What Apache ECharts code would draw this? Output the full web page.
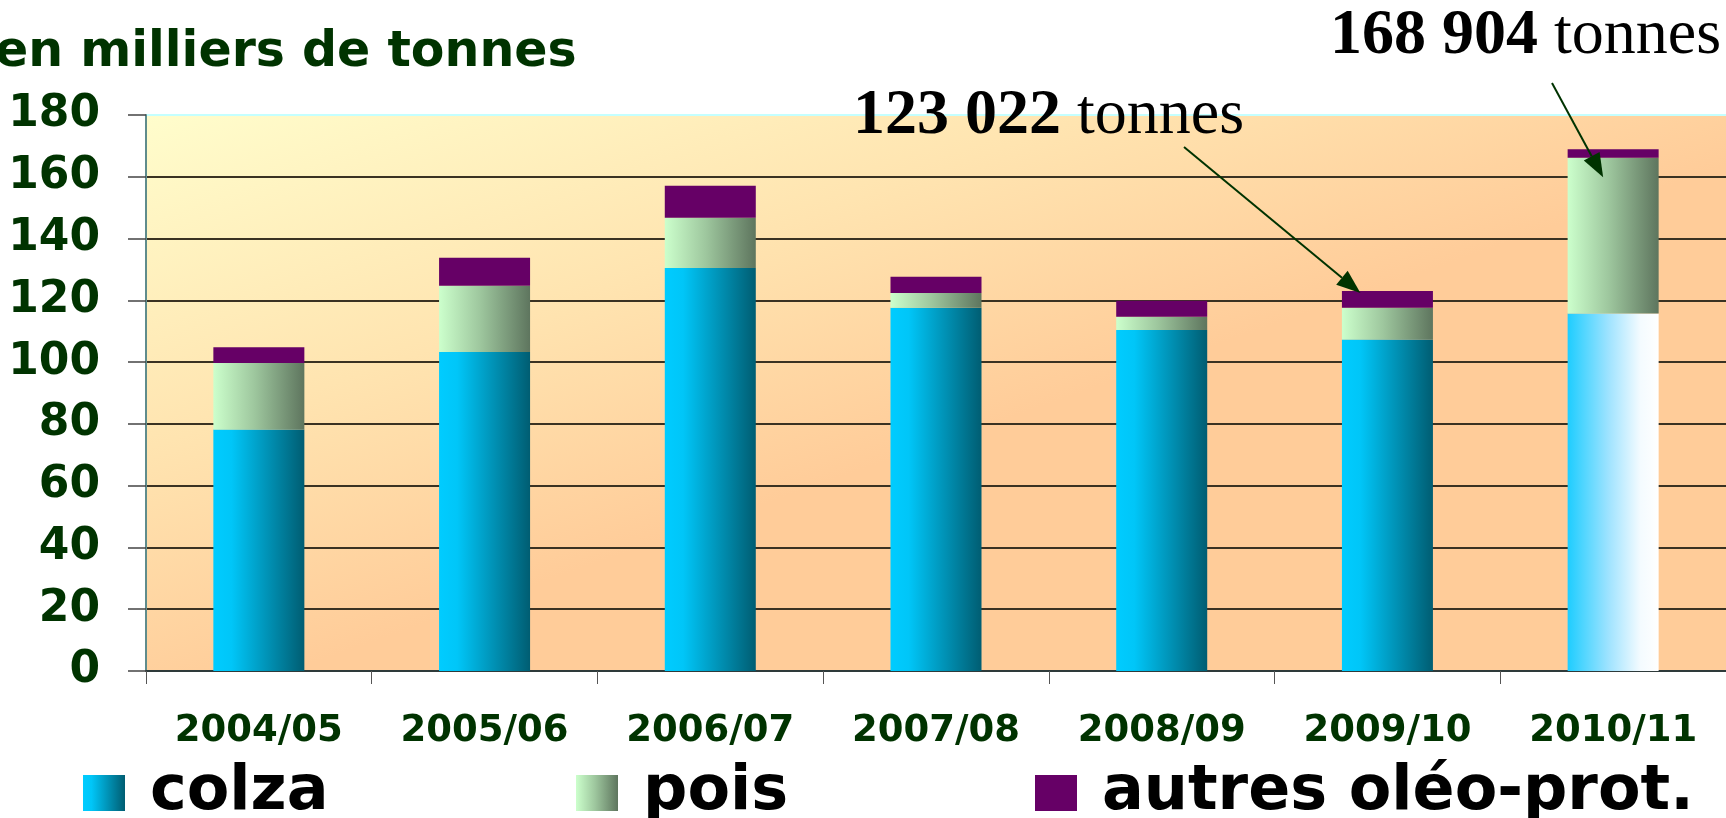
<!DOCTYPE html>
<html>
<head>
<meta charset="utf-8">
<script src="https://cdn.jsdelivr.net/npm/echarts@6/dist/echarts.min.js"></script>
<style>
  html, body { margin: 0; padding: 0; background: #fff; }
  #chart { width: 1726px; height: 818px; }
</style>
</head>
<body>
<div id="chart"></div>
<script>
// data (milliers de tonnes)
const categories = ['2004/05', '2005/06', '2006/07', '2007/08', '2008/09', '2009/10', '2010/11']
const colza = [78.2, 103.3, 130.5, 117.6, 110.4, 107.3, 115.7]
const pois = [21.5, 21.4, 16.2, 4.8, 4.3, 10.3, 50.5]
const autres = [5.1, 9.1, 10.4, 5.2, 5.2, 5.4, 2.7]
const seriesNames = ['colza', 'pois', 'autres oléo-prot.']
const yMin = 0
const yMax = 180
const yStep = 20
const noteIndex = [5, 6]
const noteBold = ['123 022', '168 904']
const noteUnit = 'tonnes'

const green = '#003300'

function hGrad(stops) {
  return {
    type: 'linear', x: 0, y: 0, x2: 1, y2: 0,
    colorStops: stops.map(s => ({offset: s[0], color: s[1]}))
  }
}
const colzaGrad = hGrad([[0, '#00CCFF'], [0.2, '#00C6F8'], [1, '#005D72']])
const colzaLastGrad = hGrad([[0, '#1ECDFF'], [0.45, '#9FE3FF'], [0.8, '#F4FBFF'], [1, '#FFFFFF']])
const poisGrad = hGrad([[0, '#CCFFCC'], [0.45, '#9EC79E'], [1, '#5E755E']])

let chart = echarts.init(document.getElementById('chart'), null, {renderer: 'canvas'})

// grid lines: the top one is light cyan
let splitColors = []
for (let v = yMin; v <= yMax; v += yStep) {
  splitColors.push(v === yMax ? '#C4FFFF' : '#3A3222')
}

function legendAt(name, left) {
  return {
    data: [name],
    left: left,
    top: 756,
    padding: [5, 0, 5, 0],
    icon: 'rect',
    itemWidth: 42,
    itemHeight: 36,
    selectedMode: false,
    textStyle: {
      fontFamily: 'DejaVu Sans',
      fontWeight: 'bold',
      fontSize: 62,
      lineHeight: 64,
      color: '#000',
      padding: [0, 0, 0, 20]
    }
  }
}

let option = {
  animation: false,
  grid: {
    left: 146,
    right: 0,
    top: 115,
    bottom: 147,
    show: true,
    borderWidth: 0,
    backgroundColor: {
      type: 'linear',
      x: 146, y: 115, x2: 336, y2: 655,
      global: true,
      colorStops: [
        {offset: 0, color: '#FFFDCC'},
        {offset: 0.55, color: '#FFE4B0'},
        {offset: 1, color: '#FFCC99'}
      ]
    }
  },
  legend: [
    legendAt(seriesNames[0], 83),
    legendAt(seriesNames[1], 576),
    legendAt(seriesNames[2], 1035)
  ],
  xAxis: {
    type: 'category',
    data: categories,
    axisLine: {show: true, lineStyle: {color: '#2E3A3A', width: 2}},
    axisTick: {show: true, alignWithLabel: false, length: 13, lineStyle: {color: '#555', width: 1}},
    axisLabel: {
      margin: 42,
      fontFamily: 'DejaVu Sans',
      fontWeight: 'bold',
      fontSize: 37,
      color: green
    },
    splitLine: {show: false}
  },
  yAxis: {
    type: 'value',
    min: yMin,
    max: yMax,
    interval: yStep,
    axisLine: {show: true, lineStyle: {color: '#5F8C8C', width: 2}},
    axisTick: {show: true, inside: false, length: 18, lineStyle: {color: '#444', width: 1.5}},
    axisLabel: {
      margin: 46,
      fontFamily: 'DejaVu Sans',
      fontWeight: 'bold',
      fontSize: 44,
      color: green
    },
    splitLine: {show: true, lineStyle: {color: splitColors, width: 2}}
  },
  series: [
    {
      name: seriesNames[0],
      type: 'bar',
      stack: 'total',
      barWidth: 91,
      itemStyle: {color: colzaGrad},
      data: colza.map((v, i) => i === colza.length - 1 ? {value: v, itemStyle: {color: colzaLastGrad}} : v)
    },
    {
      name: seriesNames[1],
      type: 'bar',
      stack: 'total',
      barWidth: 91,
      itemStyle: {color: poisGrad},
      data: pois
    },
    {
      name: seriesNames[2],
      type: 'bar',
      stack: 'total',
      barWidth: 91,
      itemStyle: {color: '#660066'},
      data: autres
    }
  ]
}
chart.setOption(option)

// annotations: title, totals and arrows
function arrow(from, to) {
  let dx = to[0] - from[0]
  let dy = to[1] - from[1]
  let len = Math.sqrt(dx * dx + dy * dy)
  let ux = dx / len
  let uy = dy / len
  let hl = 24
  let hw = 9
  let bx = to[0] - ux * hl
  let by = to[1] - uy * hl
  return [
    {
      type: 'line',
      z: 100,
      shape: {x1: from[0], y1: from[1], x2: bx, y2: by},
      style: {stroke: green, lineWidth: 2}
    },
    {
      type: 'polygon',
      z: 100,
      shape: {points: [to, [bx - uy * hw, by + ux * hw], [bx + uy * hw, by - ux * hw]]},
      style: {fill: green}
    }
  ]
}

let totals = colza.map((v, i) => v + pois[i] + autres[i])
let tip1 = chart.convertToPixel({xAxisIndex: 0, yAxisIndex: 0}, [noteIndex[0], totals[noteIndex[0]]])
let tip2 = chart.convertToPixel({xAxisIndex: 0, yAxisIndex: 0}, [noteIndex[1], totals[noteIndex[1]]])

let richStyle = {
  b: {fontFamily: 'Liberation Serif', fontWeight: 'bold', fontSize: 64, fill: '#000'},
  r: {fontFamily: 'Liberation Serif', fontWeight: 'normal', fontSize: 64, fill: '#000'}
}

let graphics = [
  {
    type: 'text',
    left: -5,
    top: 29,
    z: 100,
    style: {
      text: 'en milliers de tonnes',
      fontFamily: 'DejaVu Sans',
      fontWeight: 'bold',
      fontSize: 49,
      fill: green
    }
  },
  {
    type: 'text',
    x: 853,
    y: 116,
    z: 100,
    style: {
      text: '{b|' + noteBold[0] + ' }{r|' + noteUnit + '}',
      rich: richStyle,
      verticalAlign: 'middle'
    }
  },
  {
    type: 'text',
    x: 1330,
    y: 36,
    z: 100,
    style: {
      text: '{b|' + noteBold[1] + ' }{r|' + noteUnit + '}',
      rich: richStyle,
      verticalAlign: 'middle'
    }
  }
]
graphics = graphics.concat(arrow([1184, 147], [tip1[0] - 27, tip1[1] + 2]))
graphics = graphics.concat(arrow([1552, 83], [tip2[0] - 10, tip2[1] + 28]))

chart.setOption({graphic: graphics})
</script>
</body>
</html>
